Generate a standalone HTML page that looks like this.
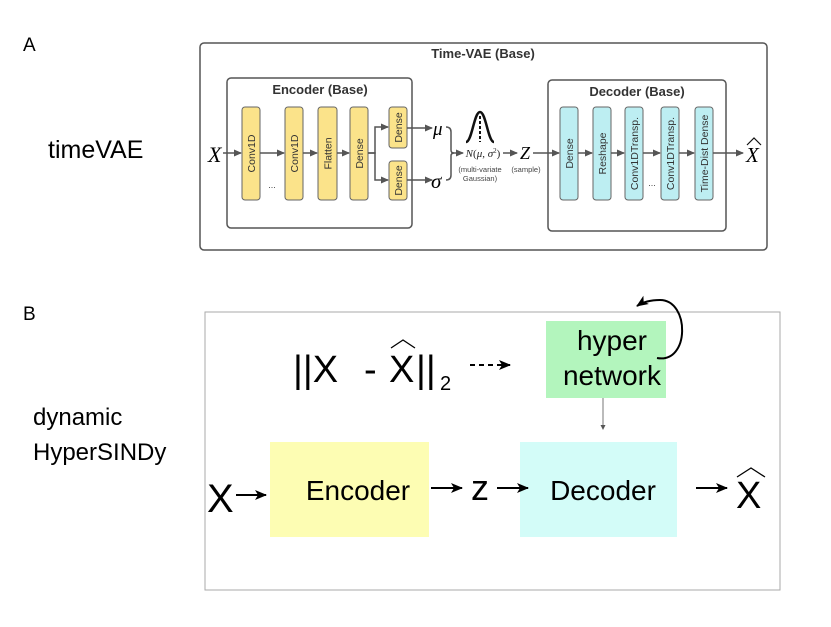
<!DOCTYPE html>
<html><head><meta charset="utf-8"><style>
html,body{margin:0;padding:0;background:#fff;}
svg{display:block;}
</style></head><body>
<svg width="831" height="627" viewBox="0 0 831 627" xmlns="http://www.w3.org/2000/svg" font-family="Liberation Sans, sans-serif">
<defs>
<marker id="ga" markerWidth="8" markerHeight="8" refX="7" refY="4" orient="auto" markerUnits="userSpaceOnUse"><path d="M0,0.5 L8,4 L0,7.5 Z" fill="#555"/></marker>
<marker id="ba" markerWidth="12" markerHeight="12" refX="11" refY="6" orient="auto" markerUnits="userSpaceOnUse"><path d="M0,1 L12,6 L0,11 L3,6 Z" fill="#000"/></marker>
<marker id="sa" markerWidth="5" markerHeight="5" refX="4" refY="2.5" orient="auto" markerUnits="userSpaceOnUse"><path d="M0,0 L5,2.5 L0,5 Z" fill="#555"/></marker>
</defs>
<text x="23" y="51" font-size="19">A</text>
<text x="48" y="158" font-size="25">timeVAE</text>
<text x="23" y="320" font-size="19">B</text>
<text x="33" y="425" font-size="24">dynamic</text>
<text x="33" y="460" font-size="24">HyperSINDy</text>

<rect x="200" y="43" width="567" height="207" rx="4" fill="#fff" stroke="#555" stroke-width="1.5"/>
<text x="483" y="58" font-size="13" font-weight="bold" fill="#333" text-anchor="middle">Time-VAE (Base)</text>
<rect x="227" y="78" width="185" height="150" rx="4" fill="#fff" stroke="#555" stroke-width="1.5"/>
<text x="320" y="94" font-size="13" font-weight="bold" fill="#333" text-anchor="middle">Encoder (Base)</text>
<rect x="548" y="80" width="178" height="151" rx="4" fill="#fff" stroke="#555" stroke-width="1.5"/>
<text x="637" y="96" font-size="13" font-weight="bold" fill="#333" text-anchor="middle">Decoder (Base)</text>

<g fill="#fbe38a" stroke="#666" stroke-width="1">
<rect x="242" y="107" width="18" height="93" rx="3"/>
<rect x="285" y="107" width="18" height="93" rx="3"/>
<rect x="318" y="107" width="19" height="93" rx="3"/>
<rect x="350" y="107" width="18" height="93" rx="3"/>
<rect x="389" y="107" width="18" height="41" rx="3"/>
<rect x="389" y="161" width="18" height="39" rx="3"/>
</g>
<g fill="#bdeef2" stroke="#666" stroke-width="1">
<rect x="560" y="107" width="18" height="93" rx="3"/>
<rect x="593" y="107" width="18" height="93" rx="3"/>
<rect x="625" y="107" width="18" height="93" rx="3"/>
<rect x="661" y="107" width="18" height="93" rx="3"/>
<rect x="695" y="107" width="18" height="93" rx="3"/>
</g>
<g font-size="10.5" fill="#333" text-anchor="middle">
<text transform="translate(255,153.5) rotate(-90)">Conv1D</text>
<text transform="translate(298,153.5) rotate(-90)">Conv1D</text>
<text transform="translate(331.5,153.5) rotate(-90)">Flatten</text>
<text transform="translate(363,153.5) rotate(-90)">Dense</text>
<text transform="translate(402,127.5) rotate(-90)">Dense</text>
<text transform="translate(402,180.5) rotate(-90)">Dense</text>
<text transform="translate(573,153.5) rotate(-90)">Dense</text>
<text transform="translate(606,153.5) rotate(-90)">Reshape</text>
<text transform="translate(638,153.5) rotate(-90)">Conv1DTransp.</text>
<text transform="translate(674,153.5) rotate(-90)">Conv1DTransp.</text>
<text transform="translate(708,153.5) rotate(-90)">Time-Dist Dense</text>
</g>
<text x="272" y="188" font-size="9" fill="#444" text-anchor="middle">...</text>
<text x="652" y="186" font-size="9" fill="#444" text-anchor="middle">...</text>
<text x="208" y="162" font-size="22" font-style="italic" font-family="Liberation Serif, serif">X</text>
<g stroke="#555" stroke-width="1.5" fill="none">
<line x1="223" y1="153" x2="241" y2="153" marker-end="url(#ga)"/>
<line x1="260" y1="153" x2="284" y2="153" marker-end="url(#ga)"/>
<line x1="303" y1="153" x2="317" y2="153" marker-end="url(#ga)"/>
<line x1="337" y1="153" x2="349" y2="153" marker-end="url(#ga)"/>
<path d="M368,153 H375 V127 H388" marker-end="url(#ga)"/>
<path d="M368,153 H375 V180 H388" marker-end="url(#ga)"/>
<line x1="407" y1="128" x2="432" y2="128" marker-end="url(#ga)"/>
<line x1="407" y1="180" x2="432" y2="180" marker-end="url(#ga)"/>
<path d="M446,127 Q451,127 451,132 V150 Q451,153 454,153 Q451,153 451,156 V175 Q451,180 446,180"/>
<line x1="452" y1="153" x2="463" y2="153" marker-end="url(#ga)"/>
<line x1="503" y1="153" x2="517" y2="153" marker-end="url(#ga)"/>
<line x1="533" y1="153" x2="559" y2="153" marker-end="url(#ga)"/>
<line x1="578" y1="153" x2="592" y2="153" marker-end="url(#ga)"/>
<line x1="611" y1="153" x2="624" y2="153" marker-end="url(#ga)"/>
<line x1="643" y1="153" x2="660" y2="153" marker-end="url(#ga)"/>
<line x1="679" y1="153" x2="694" y2="153" marker-end="url(#ga)"/>
<line x1="713" y1="153" x2="743" y2="153" marker-end="url(#ga)"/>
</g>
<text x="433" y="135" font-size="19" font-style="italic" font-family="Liberation Serif, serif">μ</text>
<text x="431" y="188" font-size="21" font-style="italic" font-family="Liberation Serif, serif">σ</text>
<path d="M466,142 C472,142 474,112 480,112 C486,112 488,142 494,142" fill="none" stroke="#111" stroke-width="2.5"/>
<line x1="480" y1="116" x2="480" y2="142" stroke="#111" stroke-width="2" stroke-dasharray="3,2"/>
<text x="483" y="157" font-size="11" font-family="Liberation Serif, serif" text-anchor="middle" fill="#222"><tspan font-style="italic">N</tspan>(<tspan font-style="italic">μ</tspan>, <tspan font-style="italic">σ</tspan><tspan font-size="7" dy="-4">2</tspan><tspan dy="4">)</tspan></text>
<text x="480" y="172" font-size="7.5" fill="#444" text-anchor="middle">(multi-variate</text>
<text x="480" y="181" font-size="7.5" fill="#444" text-anchor="middle">Gaussian)</text>
<text x="525" y="159" font-size="18" font-style="italic" font-family="Liberation Serif, serif" text-anchor="middle">Z</text>
<text x="526" y="172" font-size="7.5" fill="#444" text-anchor="middle">(sample)</text>
<text x="746" y="162" font-size="21" font-style="italic" font-family="Liberation Serif, serif">X</text>
<path d="M747,145 L754,138 L761,145" fill="none" stroke="#111" stroke-width="1.2"/>

<rect x="205" y="312" width="575" height="278" fill="#fff" stroke="#aaa" stroke-width="1"/>
<rect x="546" y="321" width="120" height="77" fill="#b3f5bd"/>
<text x="612" y="350" font-size="28" text-anchor="middle">hyper</text>
<text x="612" y="385" font-size="28" text-anchor="middle">network</text>
<path d="M657,358 C690,364 690,300 660,300 C650,300 643,302 637,306" fill="none" stroke="#000" stroke-width="2" marker-end="url(#ba)"/>
<line x1="603" y1="398" x2="603" y2="429" stroke="#555" stroke-width="0.8" marker-end="url(#sa)"/>
<text x="293" y="382" font-size="38">||X</text>
<text x="364" y="382" font-size="38">-</text>
<text x="389" y="382" font-size="38">X</text>
<text x="416" y="382" font-size="38">||</text>
<text x="440" y="390" font-size="20">2</text>
<path d="M391,348 L403,340 L415,348" fill="none" stroke="#000" stroke-width="1.3"/>
<line x1="470" y1="365" x2="510" y2="365" stroke="#000" stroke-width="2" stroke-dasharray="5,4" marker-end="url(#ba)"/>

<rect x="270" y="442" width="159" height="95" fill="#fdfdb3"/>
<rect x="520" y="442" width="157" height="95" fill="#d3fcf8"/>
<text x="207" y="512" font-size="40">X</text>
<line x1="236" y1="495" x2="266" y2="495" stroke="#000" stroke-width="2" marker-end="url(#ba)"/>
<text x="358" y="500" font-size="28" text-anchor="middle">Encoder</text>
<line x1="431" y1="488" x2="462" y2="488" stroke="#000" stroke-width="2" marker-end="url(#ba)"/>
<text x="480" y="500" font-size="36" text-anchor="middle">z</text>
<line x1="497" y1="488" x2="528" y2="488" stroke="#000" stroke-width="2" marker-end="url(#ba)"/>
<text x="603" y="500" font-size="28" text-anchor="middle">Decoder</text>
<line x1="696" y1="488" x2="727" y2="488" stroke="#000" stroke-width="2" marker-end="url(#ba)"/>
<text x="736" y="508" font-size="38">X</text>
<path d="M737,477 L751,468 L765,477" fill="none" stroke="#000" stroke-width="1.3"/>
</svg>
</body></html>
